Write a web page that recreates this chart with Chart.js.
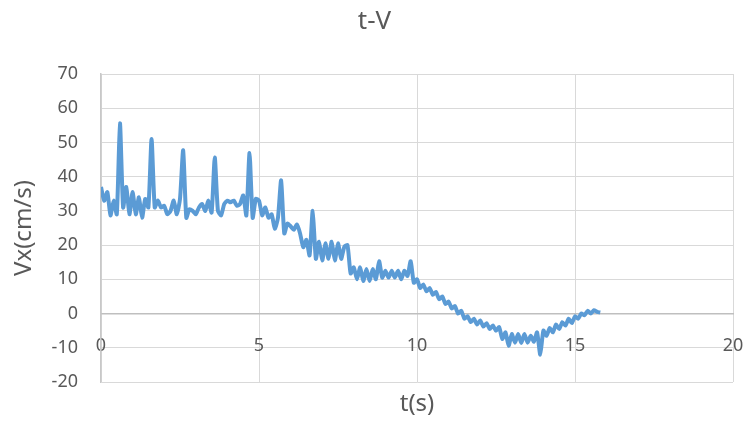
<!DOCTYPE html>
<html>
<head>
<meta charset="utf-8">
<title>t-V</title>
<script src="https://cdn.jsdelivr.net/npm/chart.js@4.4.1/dist/chart.umd.min.js"></script>
<style>
  html, body { margin: 0; padding: 0; background: #ffffff; overflow: hidden; }
  #wrap { position: relative; width: 749px; height: 423px; }
  #canvas-tv { display: block; }
</style>
</head>
<body>
<div id="wrap"><canvas id="canvas-tv"></canvas></div>
<script>
// sample times (s)
const timeValues = [
  0.0, 0.1, 0.2, 0.3, 0.4, 0.5, 0.6, 0.7, 0.8, 0.9,
  1.0, 1.1, 1.2, 1.3, 1.4, 1.5, 1.6, 1.7, 1.8, 1.9,
  2.0, 2.1, 2.2, 2.3, 2.4, 2.5, 2.6, 2.7, 2.8, 2.9,
  3.0, 3.1, 3.2, 3.3, 3.4, 3.5, 3.6, 3.7, 3.8, 3.9,
  4.0, 4.1, 4.2, 4.3, 4.4, 4.5, 4.6, 4.7, 4.8, 4.9,
  5.0, 5.1, 5.2, 5.3, 5.4, 5.5, 5.6, 5.7, 5.8, 5.9,
  6.0, 6.1, 6.2, 6.3, 6.4, 6.5, 6.6, 6.7, 6.8, 6.9,
  7.0, 7.1, 7.2, 7.3, 7.4, 7.5, 7.6, 7.7, 7.8, 7.9,
  8.0, 8.1, 8.2, 8.3, 8.4, 8.5, 8.6, 8.7, 8.8, 8.9,
  9.0, 9.1, 9.2, 9.3, 9.4, 9.5, 9.6, 9.7, 9.8, 9.9,
  10.0, 10.1, 10.2, 10.3, 10.4, 10.5, 10.6, 10.7, 10.8, 10.9,
  11.0, 11.1, 11.2, 11.3, 11.4, 11.5, 11.6, 11.7, 11.8, 11.9,
  12.0, 12.1, 12.2, 12.3, 12.4, 12.5, 12.6, 12.7, 12.8, 12.9,
  13.0, 13.1, 13.2, 13.3, 13.4, 13.5, 13.6, 13.7, 13.8, 13.9,
  14.0, 14.1, 14.2, 14.3, 14.4, 14.5, 14.6, 14.7, 14.8, 14.9,
  15.0, 15.1, 15.2, 15.3, 15.4, 15.5, 15.6, 15.7, 15.8
];

// Vx (cm/s)
const speedValues = [
  37, 33, 35.5, 28.7, 33, 29, 55.6, 31, 37, 29,
  35.5, 29, 34, 28, 33.5, 31, 51, 31, 33, 31,
  31.5, 29, 30, 33, 29, 33.5, 47.7, 28, 30.5, 30,
  29, 31, 32, 30, 33, 29.5, 45.6, 30, 28.7, 32,
  33, 32.5, 33, 31.5, 32, 34.5, 28.7, 46.9, 28, 33.5,
  33, 28.7, 31, 28, 29, 24.8, 28, 38.9, 23.4, 26.3,
  25.5, 24.5, 26, 23.4, 19.4, 21.5, 17, 30, 16, 21,
  15.5, 20.5, 16, 21, 15.5, 20.5, 16, 19.5, 20, 11.7,
  13.5, 10, 13.5, 9.5, 13, 9.5, 13, 10, 15.3, 10.5,
  12.5, 10.5, 12.5, 10.5, 12.5, 10, 12.5, 11, 15.3, 9,
  10, 7.5, 8.5, 6.5, 7.5, 5.5, 6.3, 4.2, 5, 2.8,
  3.5, 1.5, 2.2, 0, 0.8, -1.5, -0.8, -2.5, -1.5, -3.2,
  -2, -3.8, -2.8, -4.5, -3.5, -5, -4, -7.4, -5.5, -9.4,
  -6, -8.5, -6, -8.6, -6, -8.5, -6.5, -8.2, -5.5, -12,
  -5, -6.5, -4.2, -5.5, -3.2, -4.5, -2.5, -3.5, -1.5, -2.8,
  -0.8, -1.5, 0, -0.5, 0.8, 0, 1, 0.5, 0.3
];

const xTicks = [0, 5, 10, 15, 20];
const yTicks = [-20, -10, 0, 10, 20, 30, 40, 50, 60, 70];

const textColor = '#595959';
const gridColor = '#d9d9d9';
const fontFamily = '"Noto Sans", "Open Sans", sans-serif';

const points = timeValues.map((t, i) => ({ x: t, y: speedValues[i] }));

new Chart(document.getElementById('canvas-tv'), {
  type: 'line',
  data: {
    datasets: [
      {
        label: 'Vx',
        data: points,
        borderColor: '#5b9bd5',
        backgroundColor: '#5b9bd5',
        borderWidth: 4,
        pointRadius: 0,
        tension: 0.2,
        fill: false
      }
    ]
  },
  options: {
    responsive: true,
    maintainAspectRatio: false,
    animation: false,
    layout: {
      padding: 0
    },
    plugins: {
      legend: { display: false },
      tooltip: { enabled: false },
      title: {
        display: true,
        text: 't-V',
        color: textColor,
        font: { family: fontFamily, size: 26, weight: 'normal' },
        padding: { top: 6.4, bottom: 36.4 }
      }
    },
    scales: {
      x: {
        type: 'linear',
        position: { y: 0 },
        min: 0,
        max: 20,
        afterBuildTicks: (scale) => {
          scale.ticks = xTicks.map(v => ({ value: v }));
        },
        afterFit: (scale) => {
          // tick padding is only meant to push labels down, not sideways
          scale.paddingLeft = 0;
          scale.paddingRight = 0;
        },
        ticks: {
          color: textColor,
          font: { family: fontFamily, size: 18 },
          padding: 22,
          maxRotation: 0
        },
        grid: { color: gridColor, lineWidth: 1, drawTicks: false },
        border: { display: true, color: '#bfbfbf', width: 1.5 }
      },
      xt: {
        type: 'linear',
        position: 'bottom',
        min: 0,
        max: 20,
        ticks: { display: false },
        grid: { display: false, drawTicks: false },
        border: { display: false },
        title: {
          display: true,
          text: 't(s)',
          color: textColor,
          font: { family: fontFamily, size: 24 },
          padding: { top: 7.6, bottom: 4.6 }
        }
      },
      y: {
        type: 'linear',
        position: 'left',
        min: -20,
        max: 70,
        afterBuildTicks: (scale) => {
          scale.ticks = yTicks.map(v => ({ value: v }));
        },
        afterFit: (scale) => {
          scale.width = 101;
        },
        ticks: {
          color: textColor,
          font: { family: fontFamily, size: 18 },
          padding: 23
        },
        grid: { color: gridColor, lineWidth: 1, drawTicks: false },
        border: { display: true, color: '#c8c8c8', width: 1.5 },
        title: {
          display: true,
          text: 'Vx(cm/s)',
          color: textColor,
          font: { family: fontFamily, size: 24 },
          padding: { top: 9.6, bottom: 0 }
        }
      },
      // empty strip on the right so the plot stops at the same place
      yr: {
        type: 'linear',
        position: 'right',
        min: -20,
        max: 70,
        ticks: { display: false },
        grid: { display: false, drawTicks: false },
        border: { display: false },
        afterFit: (scale) => {
          scale.width = 16;
        }
      }
    }
  }
});
</script>
</body>
</html>
